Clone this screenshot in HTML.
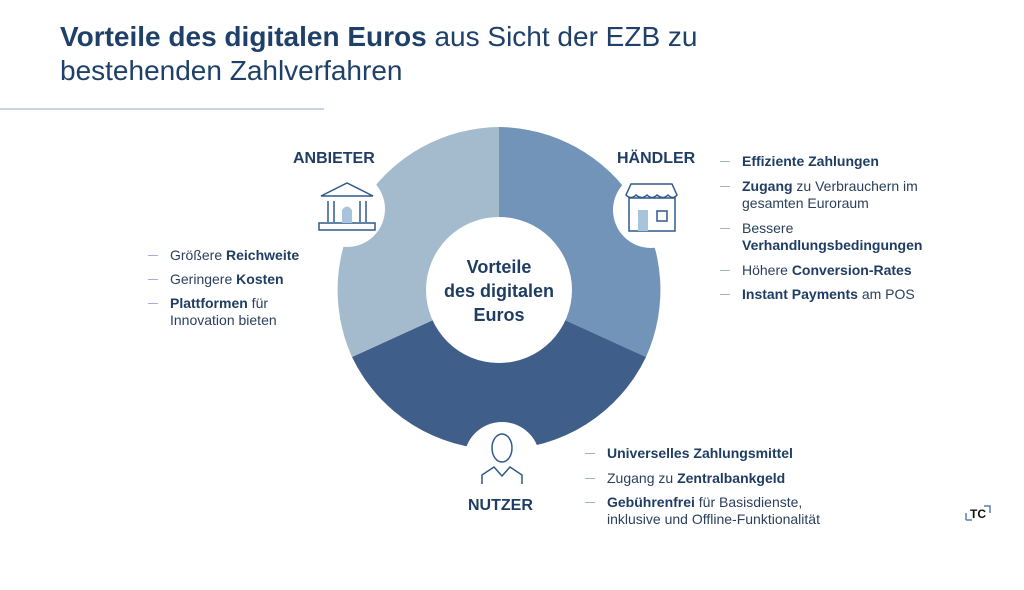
<!DOCTYPE html>
<html><head><meta charset="utf-8"><style>
body{margin:0;background:#fff;width:1024px;height:590px;position:relative;overflow:hidden;font-family:"Liberation Sans",sans-serif;color:#1f3d63}
.t{position:absolute;left:60px;font-size:28px;line-height:34px;color:#1f4068}
.l{position:absolute;font-size:14px;line-height:17px;color:#2a3f5c}
.l b{color:#1f3d63}
.d{position:absolute;width:10px;height:1px;background:#9fb4cb}
.h{position:absolute;font-size:16px;font-weight:bold;color:#1f3d63}
</style></head><body>
<div class="t" style="top:20px"><b>Vorteile des digitalen Euros</b> aus Sicht der EZB zu</div>
<div class="t" style="top:54px">bestehenden Zahlverfahren</div>
<div style="position:absolute;left:0;top:108px;width:324px;height:2px;background:#c8d4e3"></div>
<svg style="position:absolute;left:0;top:0" width="1024" height="590">
<path d="M499,290 L499,127 A163,163 0 0 1 646,357 Z" fill="#7294b8"/>
<path d="M499,290 L646,357 A163,163 0 0 1 352,357 Z" fill="#3f5f8a"/>
<path d="M499,290 L352,357 A163,163 0 0 1 499,127 Z" fill="#a3bbcd"/>
<circle cx="499" cy="290" r="73" fill="#fff"/>
<circle cx="347" cy="209" r="38" fill="#fff"/>
<circle cx="651" cy="210" r="38" fill="#fff"/>
<circle cx="502" cy="460" r="38" fill="#fff"/>
<g fill="none" stroke="#2f5a8a" stroke-width="1.5">
<path d="M321,196 L347,183 L373,196 Z"/><rect x="319" y="223" width="56" height="7"/>
<line x1="328" y1="201" x2="328" y2="222"/><line x1="334" y1="201" x2="334" y2="222"/><line x1="360" y1="201" x2="360" y2="222"/><line x1="366" y1="201" x2="366" y2="222"/>
<path d="M626,195 L631,184 L672,184 L677,195 Q673,200 668,195 Q663,200 657,195 Q652,200 647,195 Q642,200 636,195 Q631,200 626,195 Z"/>
<rect x="629" y="198" width="46" height="33"/><rect x="657" y="211" width="10" height="10"/>
<ellipse cx="502" cy="448" rx="10" ry="14"/>
<path d="M482,484 L482,475 L494,467 L502,476 L510,467 L522,475 L522,484"/>
</g>
<path d="M342,223 L342,210 Q347,203 352,210 L352,223 Z" fill="#a9c3da"/>
<rect x="638" y="210" width="10" height="21" fill="#a9c3da"/>
<text x="499" y="273" text-anchor="middle" font-size="18" font-weight="bold" fill="#1f3d63">Vorteile</text>
<text x="499" y="297" text-anchor="middle" font-size="18" font-weight="bold" fill="#1f3d63">des digitalen</text>
<text x="499" y="321" text-anchor="middle" font-size="18" font-weight="bold" fill="#1f3d63">Euros</text>
<path d="M966,520 L966,513 M966,520 L972,520 M984,506 L990,506 L990,513" stroke="#5a7fb0" stroke-width="1.5" fill="none"/>
<text x="970" y="518" font-size="12" font-weight="bold" fill="#111">TC</text>
</svg>
<div class="h" style="left:293px;top:150px">ANBIETER</div>
<div class="h" style="left:617px;top:150px">HÄNDLER</div>
<div class="h" style="left:468px;top:497px">NUTZER</div>
<div class="d" style="left:148px;top:255px"></div><div class="l" style="left:170px;top:247px">Größere <b>Reichweite</b></div>
<div class="d" style="left:148px;top:279px"></div><div class="l" style="left:170px;top:271px">Geringere <b>Kosten</b></div>
<div class="d" style="left:148px;top:303px"></div><div class="l" style="left:170px;top:295px"><b>Plattformen</b> für<br>Innovation bieten</div>
<div class="d" style="left:720px;top:161px"></div><div class="l" style="left:742px;top:153px"><b>Effiziente Zahlungen</b></div>
<div class="d" style="left:720px;top:186px"></div><div class="l" style="left:742px;top:178px"><b>Zugang</b> zu Verbrauchern im<br>gesamten Euroraum</div>
<div class="d" style="left:720px;top:228px"></div><div class="l" style="left:742px;top:220px">Bessere<br><b>Verhandlungsbedingungen</b></div>
<div class="d" style="left:720px;top:270px"></div><div class="l" style="left:742px;top:262px">Höhere <b>Conversion-Rates</b></div>
<div class="d" style="left:720px;top:294px"></div><div class="l" style="left:742px;top:286px"><b>Instant Payments</b> am POS</div>
<div class="d" style="left:585px;top:453px"></div><div class="l" style="left:607px;top:445px"><b>Universelles Zahlungsmittel</b></div>
<div class="d" style="left:585px;top:478px"></div><div class="l" style="left:607px;top:470px">Zugang zu <b>Zentralbankgeld</b></div>
<div class="d" style="left:585px;top:502px"></div><div class="l" style="left:607px;top:494px"><b>Gebührenfrei</b> für Basisdienste,<br>inklusive und Offline-Funktionalität</div>
</body></html>
